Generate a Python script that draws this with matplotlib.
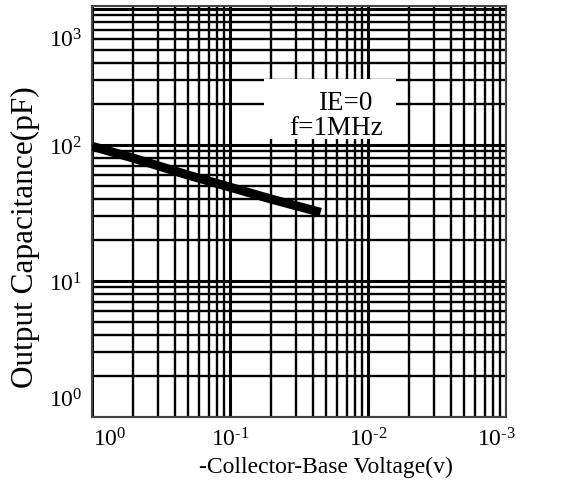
import matplotlib
matplotlib.use("Agg")
import matplotlib.pyplot as plt
import matplotlib.transforms as mtransforms
from matplotlib.patches import Rectangle

# ---- data ----
voltage = [1.0, 0.5, 0.2, 0.1, 0.05, 0.022]          # -V_CB (V)
capacitance = [98, 80, 60, 49, 40, 32]               # C_ob (pF)
x_ticks = [1, 0.1, 0.01, 0.001]
x_labels = [r"$10^{0}$", r"$10^{\text{-}1}$", r"$10^{\text{-}2}$", r"$10^{\text{-}3}$"]
y_ticks = [1, 10, 100, 1000]
y_labels = [r"$10^{0}$", r"$10^{1}$", r"$10^{2}$", r"$10^{3}$"]
note_lines = ["IE=0", "f=1MHz"]

plt.rcParams["font.family"] = ["Liberation Serif", "DejaVu Serif"]
plt.rcParams["mathtext.fontset"] = "custom"
plt.rcParams["mathtext.rm"] = "Liberation Serif"
plt.rcParams["mathtext.it"] = "Liberation Serif"

fig = plt.figure(figsize=(5.64, 5.02), dpi=100)
ax = fig.add_axes([0.163, 0.167, 0.734, 0.819])

ax.set_xscale("log")
ax.set_yscale("log")
ax.set_xlim(1, 1e-3)
ax.set_ylim(1, 1.05e3)

# grid lines: minor at 10^-k / m (reference grid layout), majors at decades
xminor = [10.0 ** (-k) / m for k in range(3) for m in range(2, 10)]
yminor = [10.0 ** k * m for k in range(3) for m in range(2, 10)]
ax.set_xticks(x_ticks)
ax.set_xticklabels(x_labels)
ax.set_yticks(y_ticks)
ax.set_yticklabels(y_labels)
ax.set_xticks(xminor, minor=True)
ax.set_yticks(yminor, minor=True)
ax.xaxis.set_minor_formatter(matplotlib.ticker.NullFormatter())
ax.yaxis.set_minor_formatter(matplotlib.ticker.NullFormatter())
ax.grid(True, which="major", color="black", lw=2.2)
ax.grid(True, which="minor", color="black", lw=1.7)
ax.tick_params(which="both", length=0, labelsize=17, pad=7)
for s in ax.spines.values():
    s.set_linewidth(1.5)
    s.set_color("#444444")

# edge tick labels nudged inward as in the reference
xl = ax.get_xticklabels()
xl[0].set_transform(xl[0].get_transform() + mtransforms.ScaledTranslation(18/100, 0, fig.dpi_scale_trans))
xl[-1].set_transform(xl[-1].get_transform() + mtransforms.ScaledTranslation(-9/100, 0, fig.dpi_scale_trans))
yl = ax.get_yticklabels()
yl[0].set_transform(yl[0].get_transform() + mtransforms.ScaledTranslation(0, 20/100, fig.dpi_scale_trans))
yl[-1].set_transform(yl[-1].get_transform() + mtransforms.ScaledTranslation(0, -28/100, fig.dpi_scale_trans))

ax.plot(voltage, capacitance, color="black", lw=6.5, solid_capstyle="butt", zorder=3)

# white note box
ax.add_patch(Rectangle((0.415, 0.676), 0.32, 0.146, transform=ax.transAxes,
                       facecolor="white", edgecolor="none", zorder=4))
ax.text(0.612, 0.766, note_lines[0], transform=ax.transAxes, ha="center", va="center",
        fontsize=19.5, zorder=5)
ax.text(0.59, 0.705, note_lines[1], transform=ax.transAxes, ha="center", va="center",
        fontsize=19.5, zorder=5)

ax.set_xlabel("-Collector-Base Voltage(v)", fontsize=17, labelpad=4)
ax.xaxis.set_label_coords(0.566, -0.095)
ax.set_ylabel("Output Capacitance(pF)", fontsize=22.5, labelpad=8)
ax.yaxis.set_label_coords(-0.125, 0.44)

fig.savefig("out.png", dpi=100)
